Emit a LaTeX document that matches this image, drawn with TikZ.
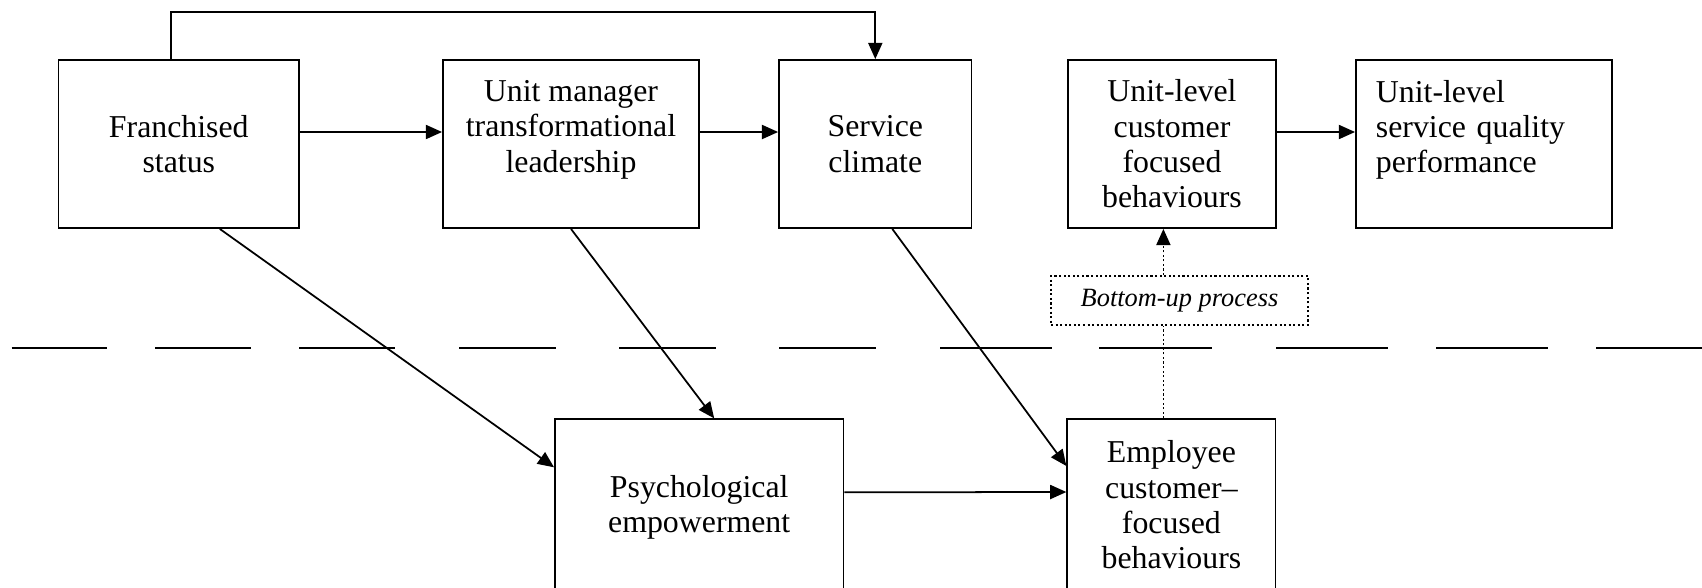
\documentclass[tikz,border=0pt]{standalone}
\usepackage{fontspec}
\setmainfont{Liberation Serif}
\usetikzlibrary{%
  arrows.meta,%
  positioning%
}

\begin{document}
\begin{tikzpicture}
[x=0.01cm, y=-0.01cm, line width=0.5pt, >={Triangle[length=4.6pt,width=4pt]},
construct/.style={rectangle, draw, inner sep=0pt, minimum height=1.68cm, align=center,
  font=\fontsize{9.05}{10.05}\selectfont},
bottomup/.style={rectangle, draw, dotdense, inner sep=0pt, minimum width=2.57cm, minimum height=0.49cm,
  font=\itshape\fontsize{7.5}{9}\selectfont},
dotdense/.style={dash pattern=on 0.6pt off 0.7pt},
divider/.style={line width=0.6pt}]

\clip (0,0) rectangle (1702,587);

% unit level
\node[construct, minimum width=2.405cm] (franchised) at (178.8,144) {Franchised\\status};
\node[construct, minimum width=2.56cm] (manager) at (571,144) {Unit manager\\transformational\\leadership\\\mbox{}};
\node[construct, minimum width=1.925cm] (climate) at (875.3,144) {Service\\climate};
\node[construct, minimum width=2.08cm] (unitcfb) at (1172,144) {Unit-level\\customer\\focused\\behaviours};
\node[construct, text width=2.16cm, inner xsep=0.2cm, align=left] (unitsqp) at (1484,144) {Unit-level\\service quality\\performance\\\mbox{}};

% individual level
\node[construct, minimum width=2.884cm, minimum height=1.76cm] (psych) at (699.2,507.3) {Psychological\\empowerment};
\node[construct, minimum width=2.082cm, minimum height=1.714cm] (employee) at (1171.4,505) {Employee\\customer–\\focused\\behaviours};
\node[bottomup] (bottomupproc) at (1179.5,300.5) {Bottom-up process};

% level divider
\foreach \a/\b in {11.5/107, 155/251, 299/395, 459/556, 619/715.5, 779/876,
  940/1051.5, 1099/1212, 1276/1388, 1436/1548, 1596/1710}
  \draw[divider] (\a,348.3) -- (\b,348.3);

\coordinate (topline) at (0,12.3);
\coordinate (bu) at (1163.4,0);

\draw[->] ([xshift=-0.08cm]franchised.north) |- (topline -| climate.north) -- (climate.north);
\draw[->] ([yshift=0.12cm]franchised.east) -- ([yshift=0.12cm]manager.west);
\draw[->] ([yshift=0.12cm]manager.east) -- ([yshift=0.12cm]climate.west);
\draw[->] ([yshift=0.12cm]unitcfb.east) -- ([yshift=0.12cm]unitsqp.west);
\draw[->] ([xshift=0.41cm]franchised.south) -- ([yshift=0.40cm]psych.west);
\draw[->] (manager.south) -- ([xshift=0.15cm]psych.north);
\draw[->] ([xshift=0.17cm]climate.south) -- ([yshift=0.39cm]employee.west);
\draw[->] ([yshift=0.15cm]psych.east) -- ([yshift=0.13cm]employee.west);
\draw[dotdense] (employee.north -| bu) -- (bottomupproc.south -| bu);
\draw[dotdense, ->] (bottomupproc.north -| bu) -- (unitcfb.south -| bu);
\end{tikzpicture}
\end{document}
